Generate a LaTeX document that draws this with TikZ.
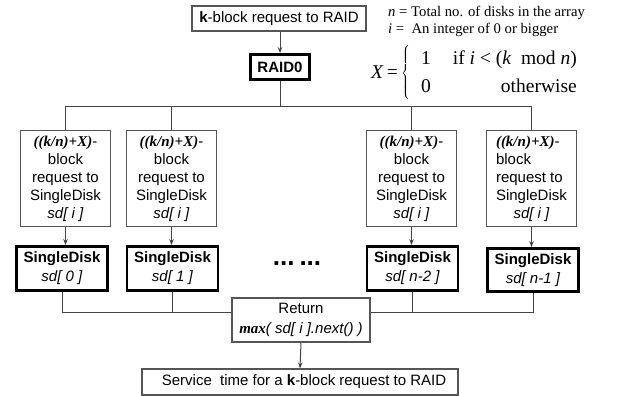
\documentclass[tikz,border=0pt]{standalone}
\usepackage{fontspec}
\setmainfont{Liberation Serif}
\newfontfamily\arial{Liberation Sans}
\newfontfamily\tnr{Liberation Serif}
\usetikzlibrary{arrows.meta}
\definecolor{boxgray}{HTML}{555555}
\definecolor{linegray}{HTML}{444444}
\tikzset{
  thinbox/.style={draw=boxgray, line width=1.1pt, inner sep=0pt, align=center,
    font=\arial\fontsize{15}{18}\selectfont},
  diskbox/.style={draw=black, line width=2.8pt, inner sep=0pt, align=center,
    minimum width=91pt, minimum height=44pt, font=\arial\fontsize{15}{19}\selectfont},
  reqbox/.style={thinbox, minimum width=90pt, minimum height=96pt},
  conn/.style={draw=linegray, line width=1pt},
  arr/.style={conn, -{Stealth[length=6pt,width=4.5pt]}},
  note/.style={anchor=base west, inner sep=0pt, font=\tnr\fontsize{14.7}{17}\selectfont},
}
\newcommand{\reqtext}{{\tnr\bfseries\itshape ((k/n)+X)}-\\block\\request to\\SingleDisk\\\textit{sd[ i ]}}
\begin{document}
\begin{tikzpicture}[x=1pt, y=-1pt]
  \fill[white] (0,0) rectangle (621,396);
  \useasboundingbox (0,0) rectangle (621,396);

  % top request and the RAID0 controller
  \node[thinbox, minimum width=174pt, minimum height=25pt] (top) at (279,18.5)
    {\textbf{k}-block request to RAID};
  \node[diskbox, minimum width=59pt, minimum height=25pt] (raid) at (280,67) {\textbf{RAID0}};

  % definitions
  \node[note] (ndef) at (388,17) {\textit{n} = Total no. of disks in the array};
  \node[note] (idef) at (388,34) {\textit{i} =\ \ An integer of 0 or bigger};
  \node[anchor=west, inner sep=0pt, font=\tnr\fontsize{19.5}{28}\selectfont] (xdef) at (371,73)
    {\textit{X}\,=\,$\left\{\begin{tabular}{@{\hspace{11pt}}l@{\hspace{22pt}}r@{}}
      1 & if \textit{i} < (\textit{k}\ \ mod \textit{n})\\
      0 & otherwise
    \end{tabular}\right.$};

  % per-disk requests
  \node[reqbox] (req1) at (65.5,178.5) {\reqtext};
  \node[reqbox] (req2) at (171.5,178.5) {\reqtext};
  \node[reqbox] (req3) at (411.5,178.5) {\reqtext};
  \node[reqbox, align=left] (req4) at (531.5,178.5)
    {{\tnr\bfseries\itshape ((k/n)+X)}-\\block\\request to\\SingleDisk\\\makebox[71pt]{\itshape sd[ i ]}};

  % disks
  \node[diskbox] (disk1) at (62,268.5) {\textbf{SingleDisk}\\\textit{sd[ 0 ]}};
  \node[diskbox] (disk2) at (172.5,268.5) {\textbf{SingleDisk}\\\textit{sd[ 1 ]}};
  \node[diskbox] (disk3) at (412.5,268.5) {\textbf{SingleDisk}\\\textit{sd[ n-2 ]}};
  \node[diskbox, minimum height=43pt] (disk4) at (533,270) {\textbf{SingleDisk}\\\textit{sd[ n-1 ]}};
  \node[anchor=base, inner sep=0pt, font=\arial\bfseries\fontsize{26}{26}\selectfont] (dots) at (297,265)
    {...\hspace{5pt}...};

  % result
  \node[thinbox, minimum width=138pt, minimum height=44pt, font=\arial\fontsize{15}{20}\selectfont] (ret) at (301,320)
    {Return\\{\tnr\bfseries\itshape max}\textit{( sd[ i ].next() )}};
  \node[thinbox, minimum width=316pt, minimum height=26pt] (svc) at (300,382)
    {\hspace{8pt}Service\ \ time for a \textbf{k}-block request to RAID};

  % connectors
  \coordinate (tb) at (0,106);
  \coordinate (bb) at (0,312);
  \draw[arr] (raid.north |- top.south) -- (raid.north);
  \draw[conn] (raid.south) -- (raid.south |- tb);
  \draw[conn] (req1.north) |- (tb -| req4.north) -- (req4.north);
  \draw[conn] (req2.north) -- (req2.north |- tb);
  \draw[conn] (req3.north) -- (req3.north |- tb);
  \draw[arr] (req1.south) -- (disk1.north -| req1.south);
  \draw[arr] (req2.south) -- (disk2.north -| req2.south);
  \draw[arr] (req3.south) -- (disk3.north -| req3.south);
  \draw[arr] (req4.south) -- (disk4.north -| req4.south);
  \draw[conn] (disk1.south) |- (bb -| ret.west);
  \draw[conn] (disk2.south) -- (disk2.south |- bb);
  \draw[conn] (disk4.south) |- (bb -| ret.east);
  \draw[conn] (disk3.south) -- (disk3.south |- bb);
  \draw[arr] (ret.south) -- (svc.north);
\end{tikzpicture}
\end{document}
